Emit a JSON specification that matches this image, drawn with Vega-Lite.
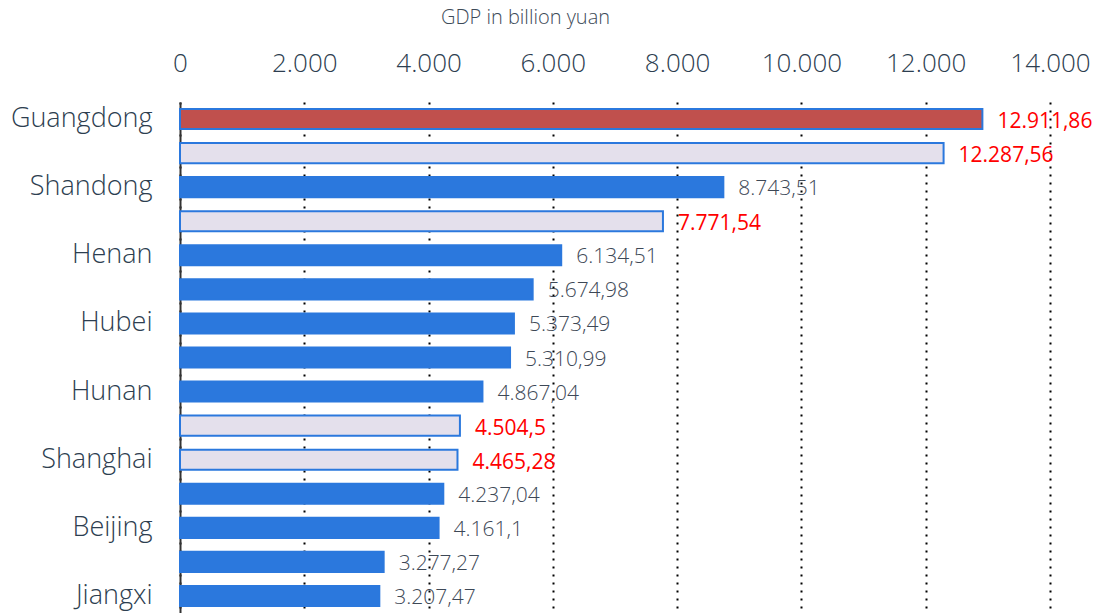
{
  "$schema": "https://vega.github.io/schema/vega-lite/v6.json",
  "width": 870,
  "height": 511,
  "autosize": "none",
  "padding": {"left": 180, "top": 102, "right": 47, "bottom": 0},
  "background": "white",
  "config": {
    "locale": {"number": {"decimal": ",", "thousands": ".", "grouping": [3], "currency": ["", " €"]}},
    "view": {"stroke": null},
    "font": "Open Sans"
  },
  "data": {
    "values": [
      {"province": "Guangdong", "gdp": 12911.86, "type": "highlight"},
      {"province": "Jiangsu", "gdp": 12287.56, "type": "compare"},
      {"province": "Shandong", "gdp": 8743.51, "type": "normal"},
      {"province": "Zhejiang", "gdp": 7771.54, "type": "compare"},
      {"province": "Henan", "gdp": 6134.51, "type": "normal"},
      {"province": "Sichuan", "gdp": 5674.98, "type": "normal"},
      {"province": "Hubei", "gdp": 5373.49, "type": "normal"},
      {"province": "Fujian", "gdp": 5310.99, "type": "normal"},
      {"province": "Hunan", "gdp": 4867.04, "type": "normal"},
      {"province": "Anhui", "gdp": 4504.5, "type": "compare"},
      {"province": "Shanghai", "gdp": 4465.28, "type": "compare"},
      {"province": "Hebei", "gdp": 4237.04, "type": "normal"},
      {"province": "Beijing", "gdp": 4161.1, "type": "normal"},
      {"province": "Shaanxi", "gdp": 3277.27, "type": "normal"},
      {"province": "Jiangxi", "gdp": 3207.47, "type": "normal"}
    ]
  },
  "encoding": {
    "y": {
      "field": "province",
      "type": "nominal",
      "sort": null,
      "scale": {"paddingInner": 0.41, "paddingOuter": 0.205},
      "axis": {
        "title": null,
        "values": ["Guangdong", "Shandong", "Henan", "Hubei", "Hunan", "Shanghai", "Beijing", "Jiangxi"],
        "ticks": false,
        "labelFontSize": 27,
        "labelFontWeight": 300,
        "labelColor": "#2d3e50",
        "labelPadding": 28,
        "domainColor": "#333333",
        "domainWidth": 2,
        "grid": false
      }
    },
    "x": {
      "field": "gdp",
      "type": "quantitative",
      "scale": {"domain": [0, 14000], "nice": false},
      "axis": {
        "orient": "top",
        "title": "GDP in billion yuan",
        "titleFontSize": 20,
        "titleFontWeight": 300,
        "titleColor": "#3d4a58",
        "titleX": 345,
        "titleY": -79,
        "titleBaseline": "alphabetic",
        "titleAnchor": "middle",
        "titleAlign": "center",
        "values": [0, 2000, 4000, 6000, 8000, 10000, 12000, 14000],
        "format": ",d",
        "labelFontSize": 26,
        "labelFontWeight": 300,
        "labelColor": "#2d3e50",
        "labelBaseline": "alphabetic",
        "labelPadding": 31,
        "ticks": false,
        "tickSize": 0,
        "domain": false,
        "grid": true,
        "gridColor": "#000000",
        "gridDash": [2, 6],
        "gridWidth": 2,
        "gridOpacity": 1,
        "labelFlush": false
      }
    }
  },
  "layer": [
    {
      "mark": {"type": "bar", "stroke": "#2b78dd", "strokeWidth": 2},
      "encoding": {
        "fill": {
          "field": "type",
          "type": "nominal",
          "scale": {"domain": ["highlight", "compare", "normal"], "range": ["#c0504d", "#e4e0ec", "#2b78dd"]},
          "legend": null
        }
      }
    },
    {
      "transform": [{"filter": "datum.type == 'normal'"}],
      "mark": {"type": "text", "align": "left", "baseline": "middle", "dx": 15, "dy": 2, "fontSize": 21, "fontWeight": 300, "color": "#3d4856"},
      "encoding": {
        "text": {"field": "gdp", "type": "quantitative", "format": ",.2~f"}
      }
    },
    {
      "transform": [{"filter": "datum.type != 'normal'"}],
      "mark": {"type": "text", "align": "left", "baseline": "middle", "dx": 15, "dy": 3, "fontSize": 21, "fontWeight": 400, "color": "#ff0000"},
      "encoding": {
        "text": {"field": "gdp", "type": "quantitative", "format": ",.2~f"}
      }
    }
  ]
}
